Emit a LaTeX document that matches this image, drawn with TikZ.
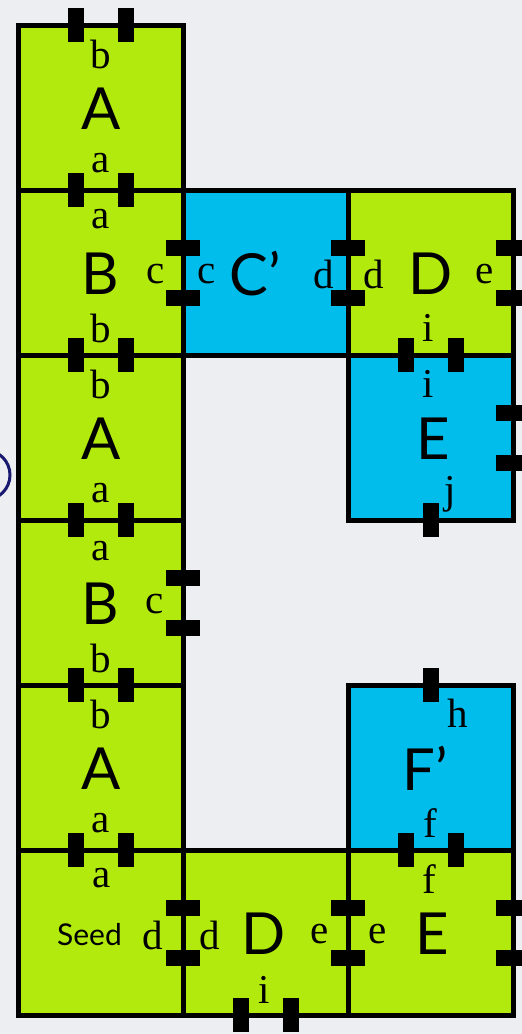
\documentclass[tikz,border=0pt]{standalone}
\usepackage{fontspec}
\setmainfont{Liberation Serif}
\newfontfamily\gillf{Lato}
\usetikzlibrary{calc}
\definecolor{tgreen}{RGB}{177,234,12}
\definecolor{tblue}{RGB}{0,189,235}
\definecolor{bgc}{RGB}{237,238,242}
\definecolor{navyc}{RGB}{25,25,112}
\begin{document}
\begin{tikzpicture}[x=1pt,y=-1pt,
 tile/.style={draw=black, line width=5pt, minimum size=165pt, inner sep=0pt, outer sep=0pt},
 gt/.style={fill=tgreen},
 bt/.style={fill=tblue},
 tabv/.style={fill=black, minimum width=16pt, minimum height=34pt, inner sep=0pt, outer sep=0pt},
 tabh/.style={fill=black, minimum width=34pt, minimum height=16pt, inner sep=0pt, outer sep=0pt},
 lab/.style={font=\fontsize{41}{41}\selectfont, inner sep=0pt},
 big/.style={font=\gillf\fontsize{58}{58}\selectfont, inner sep=0pt},
 seedlab/.style={font=\gillf\fontsize{30}{30}\selectfont, inner sep=0pt}]
\useasboundingbox (0,0) rectangle (522,1034);
\clip (0,0) rectangle (522,1034);
\fill[bgc] (0,0) rectangle (522,1034);
\draw[navyc, line width=3pt] (-15,475) circle[radius=25pt];
% tiles
\node[tile,gt] (A1) at (100.5,107.5) {};
\node[tile,gt] (B1) at (100.5,272.5) {};
\node[tile,bt] (C) at (265.5,272.5) {};
\node[tile,gt] (D1) at (430.5,272.5) {};
\node[tile,bt] (E1) at (430.5,437.5) {};
\node[tile,gt] (A2) at (100.5,437.5) {};
\node[tile,gt] (B2) at (100.5,602.5) {};
\node[tile,gt] (A3) at (100.5,767.5) {};
\node[tile,bt] (F) at (430.5,767.5) {};
\node[tile,gt] (S) at (100.5,932.5) {};
\node[tile,gt] (D2) at (265.5,932.5) {};
\node[tile,gt] (E2) at (430.5,932.5) {};
% glue tabs
\foreach \x/\y [count=\i] in {75.5/25, 125.5/25, 75.5/190, 125.5/190, 75.5/355, 125.5/355, 405.5/355, 455.5/355, 75.5/520, 125.5/520, 430.5/520, 75.5/685, 125.5/685, 430.5/685, 75.5/850, 125.5/850, 405.5/850, 455.5/850, 240.5/1015, 290.5/1015}
  \node[tabv] (gv\i) at (\x,\y) {};
\foreach \x/\y [count=\i] in {183/247.5, 183/297.5, 348/247.5, 348/297.5, 513/247.5, 513/297.5, 513/412.5, 513/462.5, 183/577.5, 183/627.5, 183/907.5, 183/957.5, 348/907.5, 348/957.5, 513/907.5, 513/957.5}
  \node[tabh] (gh\i) at (\x,\y) {};
% labels A1
\node[lab] (A1t) at (100.5,54) {b};
\node[big] (A1m) at (101,109) {A};
\node[lab] (A1b) at (100.5,163) {a};
% B1
\node[lab] (B1t) at (100.5,219) {a};
\node[big] (B1m) at (100,273.5) {B};
\node[lab] (B1r) at (156,274.5) {c};
\node[lab] (B1b) at (100.5,328) {b};
% C'
\node[lab] (Cl) at (207,274.5) {c};
\node[big] (Cm) at (255,273.5) {C’};
\node[lab] (Cr) at (324,274.5) {d};
% D1
\node[lab] (D1l) at (374,274.5) {d};
\node[big] (D1m) at (430.5,273.5) {D};
\node[lab] (D1r) at (485,274.5) {e};
\node[lab] (D1b) at (428,328) {i};
% E1
\node[lab] (E1t) at (428.5,384) {i};
\node[big] (E1m) at (433,438.5) {E};
\node[lab] (E1b) at (450,494) {j};
% A2
\node[lab] (A2t) at (100.5,384) {b};
\node[big] (A2m) at (101,438.5) {A};
\node[lab] (A2b) at (100.5,493) {a};
% B2
\node[lab] (B2t) at (100.5,551) {a};
\node[big] (B2m) at (100,603.5) {B};
\node[lab] (B2r) at (155,604.5) {c};
\node[lab] (B2b) at (100.5,658) {b};
% A3
\node[lab] (A3t) at (100.5,714) {b};
\node[big] (A3m) at (101,768.5) {A};
\node[lab] (A3b) at (100.5,823) {a};
% F'
\node[lab] (Ft) at (457.5,713) {h};
\node[big] (Fm) at (425,768.5) {F’};
\node[lab] (Fb) at (430,823) {f};
% Seed
\node[lab] (St) at (101.5,878) {a};
\node[seedlab] (Sm) at (89.5,935) {Seed};
\node[lab] (Sr) at (153,935) {d};
% D2
\node[lab] (D2l) at (210,935) {d};
\node[big] (D2m) at (264,933.5) {D};
\node[lab] (D2r) at (320,934.5) {e};
\node[lab] (D2b) at (264,990) {i};
% E2
\node[lab] (E2t) at (429.5,879) {f};
\node[lab] (E2l) at (378,934.5) {e};
\node[big] (E2m) at (432.5,933.5) {E};
\end{tikzpicture}
\end{document}
